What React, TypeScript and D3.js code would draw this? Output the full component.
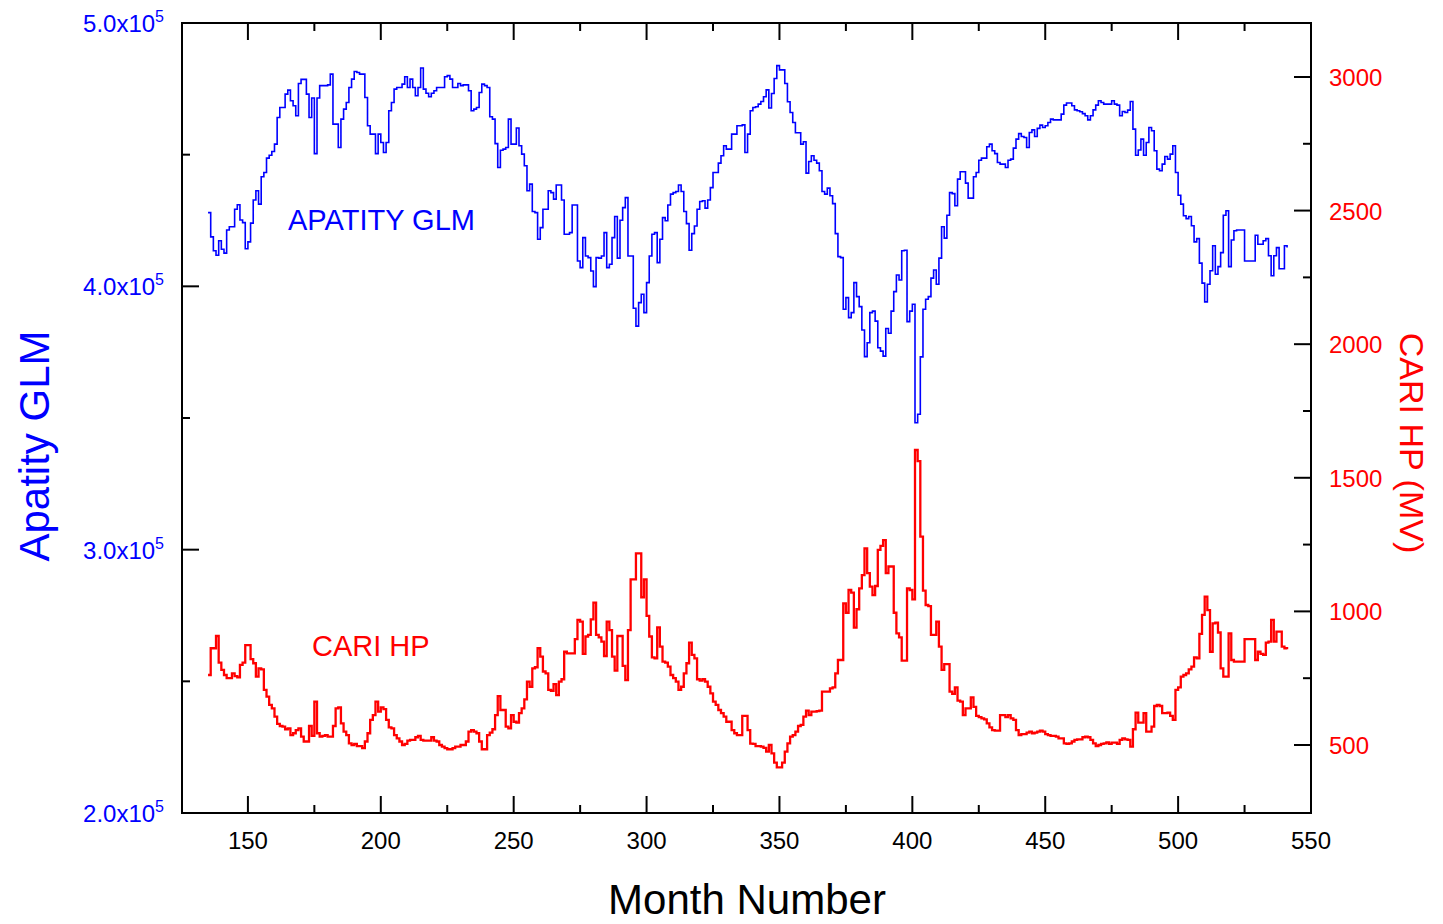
import React from 'react';
import * as d3 from 'd3';

// ---------- DATA ----------
const START_MONTH = 135; // first month number of both series (monthly values)

// Apatity GLM neutron monitor count rate, in units of 10^3 counts
const apatityGLM = [
  428.0, 418.8, 413.5, 411.8, 417.3, 414.1, 412.6, 421.4, 422.6, 422.6,
  429.3, 431.0, 425.2, 424.2, 414.3, 416.9, 424.0, 432.8, 436.3, 431.2,
  441.6, 443.2, 448.7, 449.8, 451.2, 454.0, 464.1, 467.9, 467.9, 473.0,
  474.5, 470.5, 468.6, 464.8, 477.0, 478.6, 478.6, 473.0, 464.1, 471.5,
  450.4, 471.5, 476.2, 476.2, 476.2, 476.5, 480.6, 461.6, 461.6, 452.7,
  463.5, 467.3, 469.8, 475.5, 478.7, 481.6, 481.2, 480.6, 480.6, 471.7,
  461.0, 457.8, 457.8, 450.4, 457.8, 454.6, 450.8, 454.6, 466.7, 469.8,
  474.9, 475.5, 475.5, 476.8, 479.6, 475.5, 478.7, 475.5, 472.4, 475.5,
  482.9, 474.9, 473.3, 472.0, 473.3, 474.3, 475.5, 475.5, 475.5, 479.6,
  480.0, 478.7, 475.5, 475.5, 477.0, 476.2, 476.5, 476.5, 474.3, 466.7,
  467.3, 467.9, 473.6, 476.8, 476.2, 475.5, 464.4, 463.5, 454.2, 445.1,
  451.7, 452.1, 452.7, 463.5, 454.0, 454.0, 460.1, 453.4, 450.2, 445.8,
  436.3, 438.8, 428.4, 428.0, 417.9, 422.3, 429.3, 429.3, 436.3, 435.6,
  433.1, 438.5, 438.5, 432.8, 419.8, 419.8, 420.4, 430.9, 430.9, 409.6,
  407.1, 418.5, 411.5, 410.9, 405.8, 399.9, 410.9, 410.7, 411.5, 420.4,
  407.1, 408.4, 418.5, 426.5, 410.7, 425.1, 429.9, 433.7, 411.5, 411.5,
  391.7, 384.9, 393.8, 397.0, 390.0, 401.4, 411.5, 419.8, 420.4, 409.0,
  417.9, 426.1, 424.9, 430.9, 435.0, 435.6, 436.0, 438.5, 436.0, 428.4,
  423.8, 413.7, 420.0, 422.9, 429.3, 432.2, 432.5, 429.7, 432.8, 437.5,
  443.2, 443.2, 446.8, 449.6, 453.4, 452.1, 452.1, 457.8, 457.8, 461.0,
  461.0, 461.3, 450.8, 457.8, 466.7, 467.9, 468.2, 469.2, 470.2, 472.0,
  474.6, 467.7, 473.2, 478.9, 483.8, 482.2, 482.2, 477.0, 470.1, 466.0,
  462.2, 458.3, 458.3, 454.0, 454.9, 443.0, 447.4, 449.6, 447.9, 446.8,
  443.9, 436.0, 435.0, 437.3, 434.4, 431.4, 420.0, 411.3, 410.9, 391.3,
  395.7, 388.1, 390.0, 401.4, 396.1, 392.3, 383.4, 373.3, 378.6, 390.0,
  390.6, 386.8, 376.7, 375.4, 373.5, 384.0, 382.2, 390.6, 398.0, 404.3,
  402.4, 413.5, 413.7, 386.6, 390.6, 393.2, 348.2, 351.4, 373.2, 391.3,
  395.1, 396.1, 403.1, 406.2, 400.8, 410.7, 422.6, 418.3, 427.0, 435.6,
  435.2, 430.6, 440.7, 443.5, 443.5, 439.2, 433.5, 433.5, 441.6, 443.2,
  447.9, 448.7, 448.7, 453.0, 454.0, 451.5, 450.4, 447.0, 446.4, 446.4,
  445.1, 447.9, 448.3, 452.5, 455.9, 458.0,
  456.9, 456.5, 452.7, 458.4, 459.4, 456.9, 460.0, 461.2, 460.3, 461.0,
  462.2, 463.5, 463.2, 463.2, 463.2, 465.4, 468.8, 469.6, 469.6, 468.6,
  467.0, 466.7, 466.3, 465.6, 464.8, 463.2, 464.8, 467.0, 468.8, 470.5,
  469.8, 469.2, 469.2, 469.2, 470.5, 469.2, 468.8, 464.8, 466.4, 466.0,
  466.9, 470.2, 459.7, 449.8, 451.8, 455.9, 449.8, 454.6, 460.3, 459.1,
  451.5, 444.5, 443.9, 446.4, 449.3, 448.3, 450.2, 453.4, 443.2, 434.6,
  431.2, 426.8, 425.7, 426.5, 423.0, 416.9, 418.1, 408.8, 401.2, 394.1,
  400.8, 405.9, 415.4, 404.6, 407.5, 412.8, 427.0, 428.7, 407.5, 417.6,
  421.1, 421.4, 421.4, 421.4, 409.6, 409.6, 409.6, 409.6, 419.4, 416.0,
  416.0, 417.3, 418.1, 411.6, 404.0, 411.6, 414.7, 406.7, 406.7, 415.4, 414.7,
];

// CARI HP, MV
const cariHP = [
  762, 862, 862, 908, 808, 781, 762, 750, 750, 768,
  758, 753, 800, 808, 874, 874, 821, 806, 756, 787,
  783, 706, 681, 650, 637, 606, 579, 571, 569, 559,
  562, 537, 544, 556, 562, 531, 513, 513, 571, 534,
  662, 544, 531, 534, 537, 531, 531, 571, 637, 641,
  581, 550, 537, 506, 500, 504, 496, 496, 488, 513,
  544, 594, 612, 662, 625, 641, 634, 594, 566, 562,
  537, 525, 513, 500, 504, 516, 519, 519, 529, 534,
  519, 516, 516, 516, 529, 516, 513, 500, 494, 488,
  484, 484, 488, 494, 494, 500, 500, 513, 550, 556,
  550, 544, 513, 484, 484, 537, 546, 559, 612, 683,
  631, 631, 569, 562, 612, 587, 584, 619, 637, 671,
  737, 718, 787, 791, 862, 831, 775, 768, 706, 703,
  728, 687, 737, 746, 849, 843, 843, 843, 896, 968,
  962, 841, 906, 912, 970, 1033, 912, 903, 887, 833,
  962, 930, 831, 778, 908, 908, 796, 743, 930, 1120,
  1120, 1217, 1217, 1053, 1120, 983, 906, 828, 824, 940,
  868, 812, 808, 793, 762, 750, 737, 706, 718, 768,
  806, 883, 837, 824, 746, 741, 746, 737, 718, 693,
  662, 650, 631, 619, 606, 587, 587, 556, 544, 537,
  537, 609, 609, 556, 505, 504, 496, 496, 494, 489,
  475, 500, 469, 434, 416, 416, 434, 475, 506, 531,
  537, 550, 571, 575, 606, 629, 612, 625, 625, 627,
  629, 700, 700, 700, 712, 716, 768, 818, 818, 1030,
  995, 1080, 1070, 939, 1008, 1086, 1136, 1236, 1143, 1093,
  1061, 1095, 1230, 1245, 1267, 1143, 1168, 1168, 995, 918,
  903, 816, 816, 1086, 1080, 1045, 1604, 1562, 1280, 1078,
  1024, 1020, 912, 912, 962, 868, 781, 803, 803, 700,
  691, 716, 666, 662, 612, 637, 637, 678, 643, 609,
  604, 600, 596, 581, 566, 556, 554, 554, 612, 612,
  604, 612, 600, 594, 556, 537,
  541, 541, 546, 550, 544, 546, 550, 554, 550, 541,
  537, 534, 534, 531, 525, 525, 506, 504, 506, 513,
  519, 521, 521, 529, 531, 529, 519, 506, 496, 500,
  504, 506, 510, 504, 509, 509, 504, 519, 525, 521,
  519, 494, 559, 621, 584, 584, 619, 550, 550, 569,
  646, 650, 646, 619, 619, 621, 609, 594, 706, 716,
  756, 762, 768, 783, 793, 828, 824, 916, 987, 1055,
  1005, 849, 955, 958, 921, 787, 756, 756, 918, 818,
  812, 812, 812, 812, 896, 896, 896, 896, 818, 849,
  841, 837, 883, 887, 968, 887, 924, 924, 868, 862, 858,
];

const monthTicks = [150, 200, 250, 300, 350, 400, 450, 500, 550];
const monthMinorTicks = [175, 225, 275, 325, 375, 425, 475, 525];
const glmTicks = [200000, 300000, 400000, 500000];
const glmTickLabels = ['2.0x10', '3.0x10', '4.0x10', '5.0x10'];
const glmMinorTicks = [250000, 350000, 450000];
const cariTicks = [500, 1000, 1500, 2000, 2500, 3000];
const cariMinorTicks = [750, 1250, 1750, 2250, 2750];

// ---------- LAYOUT ----------
const W = 1443;
const H = 924;
const L = 182, R = 1311, T = 23, B = 813;
const FONT = "'Liberation Sans', Arial, Helvetica, sans-serif";
const BLUE = '#0000FF';
const RED = '#FF0000';
const MAJOR = 17;
const MINOR = 8;

export default function App() {
  const x = d3.scaleLinear().domain([125.2, 550]).range([L, R]);
  const yL = d3.scaleLinear().domain([200000, 500000]).range([B, T]);
  const yR = d3.scaleLinear().domain([245.5, 3202]).range([B, T]);

  const blueLine = d3
    .line<number>()
    .x((_, i) => x(START_MONTH + i))
    .y((d) => yL(d * 1000))
    .curve(d3.curveStepAfter);
  const redLine = d3
    .line<number>()
    .x((_, i) => x(START_MONTH + i))
    .y((d) => yR(d))
    .curve(d3.curveStepAfter);

  const tick = { stroke: '#000', strokeWidth: 2 };

  return (
    <svg
      width={W}
      height={H}
      style={{ position: 'absolute', left: 0, top: 0, display: 'block', background: '#fff' }}
      fontFamily={FONT}
    >
      <rect x={0} y={0} width={W} height={H} fill="#fff" />

      {/* series */}
      <path d={blueLine(apatityGLM) || ''} fill="none" stroke={BLUE} strokeWidth={1.6} strokeLinejoin="miter" />
      <path d={redLine(cariHP) || ''} fill="none" stroke={RED} strokeWidth={2.3} strokeLinejoin="miter" />

      {/* frame */}
      <rect x={L} y={T} width={R - L} height={B - T} fill="none" stroke="#000" strokeWidth={2} />

      {/* bottom + top ticks */}
      {monthTicks.map((t) => (
        <g key={'mt' + t}>
          <line x1={x(t)} x2={x(t)} y1={B} y2={B - MAJOR} {...tick} />
          <line x1={x(t)} x2={x(t)} y1={T} y2={T + MAJOR} {...tick} />
          <text x={x(t)} y={849} fontSize={24} textAnchor="middle" fill="#000">
            {t}
          </text>
        </g>
      ))}
      {monthMinorTicks.map((t) => (
        <g key={'mm' + t}>
          <line x1={x(t)} x2={x(t)} y1={B} y2={B - MINOR} {...tick} />
          <line x1={x(t)} x2={x(t)} y1={T} y2={T + MINOR} {...tick} />
        </g>
      ))}

      {/* left axis */}
      {glmTicks.map((t, i) => (
        <g key={'gt' + t}>
          <line x1={L} x2={L + MAJOR} y1={yL(t)} y2={yL(t)} {...tick} />
          <text x={164} y={yL(t) + 9} fontSize={24} textAnchor="end" fill={BLUE}>
            {glmTickLabels[i]}
            <tspan fontSize={16} dy={-10}>
              5
            </tspan>
          </text>
        </g>
      ))}
      {glmMinorTicks.map((t) => (
        <line key={'gm' + t} x1={L} x2={L + MINOR} y1={yL(t)} y2={yL(t)} {...tick} />
      ))}

      {/* right axis */}
      {cariTicks.map((t) => (
        <g key={'ct' + t}>
          <line x1={R} x2={R - MAJOR} y1={yR(t)} y2={yR(t)} {...tick} />
          <text x={1329} y={yR(t) + 9} fontSize={24} textAnchor="start" fill={RED}>
            {t}
          </text>
        </g>
      ))}
      {cariMinorTicks.map((t) => (
        <line key={'cm' + t} x1={R} x2={R - MINOR} y1={yR(t)} y2={yR(t)} {...tick} />
      ))}

      {/* axis titles */}
      <text x={747} y={914} fontSize={42} textAnchor="middle" fill="#000">
        Month Number
      </text>
      <text transform="translate(49,446) rotate(-90)" fontSize={42} textAnchor="middle" fill={BLUE}>
        Apatity GLM
      </text>
      <text transform="translate(1400,443) rotate(90)" fontSize={34} textAnchor="middle" fill={RED}>
        CARI HP (MV)
      </text>

      {/* in-plot labels */}
      <text x={288} y={230} fontSize={29} fill={BLUE}>
        APATITY GLM
      </text>
      <text x={312} y={656} fontSize={29} fill={RED}>
        CARI HP
      </text>
    </svg>
  );
}
